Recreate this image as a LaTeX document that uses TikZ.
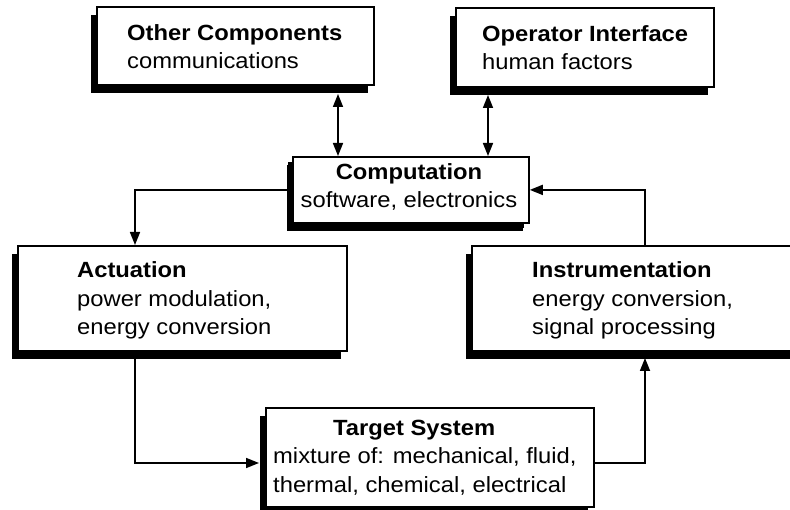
\documentclass[tikz,border=0pt]{standalone}
\usepackage{fontspec}
\setmainfont{Liberation Sans}[FakeStretch=1.08]
\usetikzlibrary{shadows,arrows.meta}

\begin{document}
\begin{tikzpicture}[x=1pt,y=-1pt,
  box/.style={draw=black, line width=1.8pt, fill=white, anchor=north west, inner sep=0pt,
    drop shadow={fill=black, opacity=1, shadow xshift=-6pt, shadow yshift=-8pt}},
  smallshadow/.style={drop shadow={fill=black, opacity=1, shadow xshift=-5pt, shadow yshift=-5pt}},
  txt/.style={anchor=base west, align=left, inner sep=0pt, font=\fontsize{22}{28.5}\selectfont},
  ctxt/.style={anchor=base, align=center, inner sep=0pt, font=\fontsize{22}{28.5}\selectfont},
  link/.style={line width=1.7pt, -{Triangle[length=13pt,width=10pt]}},
  twoway/.style={line width=1.7pt, {Triangle[length=13pt,width=10pt]}-{Triangle[length=13pt,width=10pt]}},
]
\clip (0,0) rectangle (790,510);

% blocks
\node[box, minimum width=277pt, minimum height=78pt] (oc) at (96,6) {};
\node[box, minimum width=258pt, minimum height=79pt] (oi) at (455,7) {};
\node[box, smallshadow, minimum width=236pt, minimum height=66pt] (comp) at (292,156) {};
\node[box, minimum width=329pt, minimum height=105pt] (act) at (17,245) {};
\node[box, minimum width=330pt, minimum height=105pt] (ins) at (471,245) {};
\node[box, minimum width=328pt, minimum height=99pt] (tgt) at (265,407) {};

% block texts (anchored on the baseline of their last line)
\node[txt] (octext) at (127,69) {\textbf{Other Components}\\communications};
\node[txt] (oitext) at (482,70) {\textbf{Operator Interface}\\human factors};
\node[ctxt] (comptext) at (409,208) {\textbf{Computation}\\software, electronics};
\node[txt] (acttext) at (77,335) {\textbf{Actuation}\\power modulation,\\energy conversion};
\node[txt] (instext) at (532,335) {\textbf{Instrumentation}\\energy conversion,\\signal processing};
\node[txt] (tgttext) at (273,492) {\hspace*{60pt}\textbf{Target System}\\mixture of: mechanical, fluid,\\thermal, chemical, electrical};

% connector end points on the shadows
\coordinate (ocb) at (338,94);
\coordinate (oib) at (488,95);
\coordinate (actb) at (135,358);
\coordinate (tgtl) at (259,463);
\coordinate (insb) at (645,358);
\coordinate (inst) at (645,245);

% connectors
\draw[twoway] (ocb) -- (ocb |- comp.north);
\draw[twoway] (oib) -- (oib |- comp.north);
\draw[link] (comp.west) -| (act.north -| actb);
\draw[link] (actb) |- (tgtl);
\draw[link] (tgt.east |- tgtl) -| (insb);
\draw[link] (inst) |- (comp.east);
\end{tikzpicture}
\end{document}
